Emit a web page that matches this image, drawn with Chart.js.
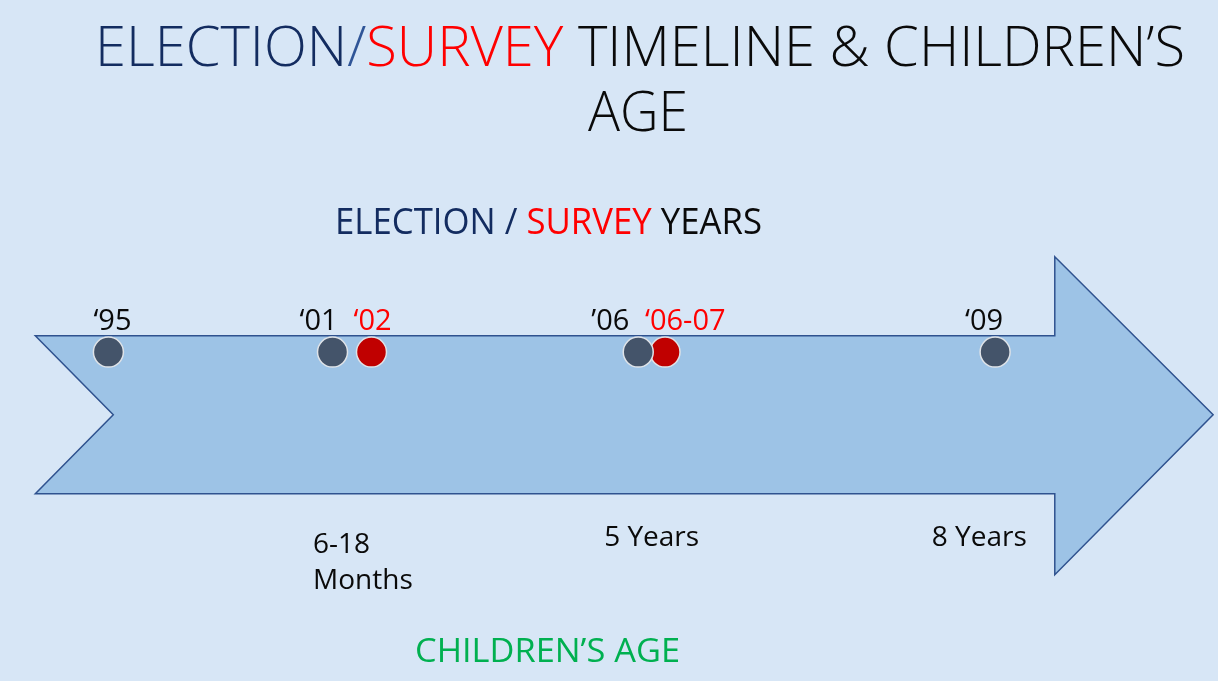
<!DOCTYPE html>
<html>
<head>
<meta charset="utf-8">
<script src="https://cdn.jsdelivr.net/npm/chart.js@4.4.1/dist/chart.umd.min.js"></script>
<style>
    html, body { margin: 0; padding: 0; background: #d7e6f6; }
    .chart-container { position: relative; width: 1218px; height: 681px; }
</style>
</head>
<body>
<div class="chart-container"><canvas id="chart"></canvas></div>
<script>
// timeline positions are in slide units (0-100 across the arrow), not in years
const electionLabels = ['\u201895', '\u201801', '\u201906', '\u201809'];
const electionPos = [8.9, 27.3, 52.4, 81.7];
const surveyLabels = ['\u201802', '\u201806-07'];
const surveyPos = [30.5, 54.6];
const ageLabels = [['6-18', 'Months'], ['5 Years'], ['8 Years']];
const agePos = [25.7, 49.6, 76.5];
const timelineLevel = 51.7;

// label left edge, px from its dot
const electionDx = [-15, -33, -47, -30];
const surveyDx = [-18, -20];

const arrow = { tail: 2.9, notch: 9.3, neck: 86.6, tip: 99.6, top: 49.3, bottom: 72.5, headTop: 37.7, headBottom: 84.4, mid: 60.9 };

const NAVY = '#132c60';
const RED = '#ff0000';
const INK = '#0a0a0a';

const drawRich = (ctx, parts, x, y, width, font) => {
    ctx.save();
    ctx.font = font;
    ctx.textBaseline = 'alphabetic';
    ctx.textAlign = 'left';
    const total = parts.reduce((s, p) => s + ctx.measureText(p[0]).width, 0);
    ctx.translate(x, y);
    ctx.scale(width / total, 1);
    let cx = 0;
    parts.forEach(([t, c]) => {
        ctx.fillStyle = c;
        ctx.fillText(t, cx, 0);
        cx += ctx.measureText(t).width;
    });
    ctx.restore();
};

const slidePlugin = {
    id: 'slide',
    beforeDraw(chart) {
        const { ctx, width, height } = chart;
        ctx.save();
        ctx.fillStyle = '#d7e6f6';
        ctx.fillRect(0, 0, width, height);
        ctx.restore();
    },
    beforeDatasetsDraw(chart) {
        const { ctx, scales: { x, y } } = chart;
        const X = v => x.getPixelForValue(v);
        const Y = v => y.getPixelForValue(v);
        ctx.save();
        ctx.beginPath();
        ctx.moveTo(X(arrow.tail), Y(arrow.top));
        ctx.lineTo(X(arrow.neck), Y(arrow.top));
        ctx.lineTo(X(arrow.neck), Y(arrow.headTop));
        ctx.lineTo(X(arrow.tip), Y(arrow.mid));
        ctx.lineTo(X(arrow.neck), Y(arrow.headBottom));
        ctx.lineTo(X(arrow.neck), Y(arrow.bottom));
        ctx.lineTo(X(arrow.tail), Y(arrow.bottom));
        ctx.lineTo(X(arrow.notch), Y(arrow.mid));
        ctx.closePath();
        ctx.fillStyle = '#9dc3e6';
        ctx.fill();
        ctx.lineWidth = 1.5;
        ctx.strokeStyle = '#2f528f';
        ctx.stroke();
        ctx.restore();
    },
    afterDatasetsDraw(chart) {
        const { ctx, scales: { x } } = chart;
        const light = '300 56px "Open Sans", sans-serif';
        drawRich(ctx, [['ELECTION', NAVY], ['/', '#2f5597'], ['SURVEY', RED], [' TIMELINE & CHILDREN\u2019S', INK]], 95, 66, 1090, light);
        drawRich(ctx, [['AGE', INK]], 588, 131, 100, light);
        drawRich(ctx, [['ELECTION / ', NAVY], ['SURVEY', RED], [' YEARS', INK]], 335, 234, 427, '36px "Open Sans", sans-serif');

        ctx.save();
        ctx.font = '29px "Open Sans", sans-serif';
        ctx.textBaseline = 'alphabetic';
        ctx.textAlign = 'left';
        electionLabels.forEach((t, i) => {
            ctx.fillStyle = INK;
            ctx.fillText(t, x.getPixelForValue(electionPos[i]) + electionDx[i], 330);
        });
        surveyLabels.forEach((t, i) => {
            ctx.fillStyle = RED;
            ctx.fillText(t, x.getPixelForValue(surveyPos[i]) + surveyDx[i], 330);
        });
        ctx.font = '28px "Open Sans", sans-serif';
        ctx.fillStyle = INK;
        ageLabels.forEach((lines, i) => {
            const base = lines.length > 1 ? 553 : 546;
            lines.forEach((t, j) => ctx.fillText(t, x.getPixelForValue(agePos[i]), base + j * 36));
        });
        ctx.restore();

        drawRich(ctx, [['CHILDREN\u2019S AGE', '#00b050']], 415, 662, 265, '33px "Open Sans", sans-serif');
    }
};

new Chart(document.getElementById('chart').getContext('2d'), {
    type: 'scatter',
    data: {
        datasets: [
            {
                label: 'Election',
                data: electionPos.map(p => ({ x: p, y: timelineLevel })),
                pointRadius: 15,
                pointBackgroundColor: '#44546a',
                pointBorderColor: '#dfe3e8',
                pointBorderWidth: 1.5
            },
            {
                label: 'Survey',
                data: surveyPos.map(p => ({ x: p, y: timelineLevel })),
                pointRadius: 15,
                pointBackgroundColor: '#c00000',
                pointBorderColor: '#dfe3e8',
                pointBorderWidth: 1.5
            }
        ]
    },
    options: {
        responsive: true,
        maintainAspectRatio: false,
        animation: false,
        layout: { padding: 0, autoPadding: false },
        scales: {
            x: { type: 'linear', min: 0, max: 100, display: false },
            y: { type: 'linear', min: 0, max: 100, reverse: true, display: false }
        },
        plugins: {
            legend: { display: false },
            tooltip: { enabled: false }
        }
    },
    plugins: [slidePlugin]
});
</script>
</body>
</html>
